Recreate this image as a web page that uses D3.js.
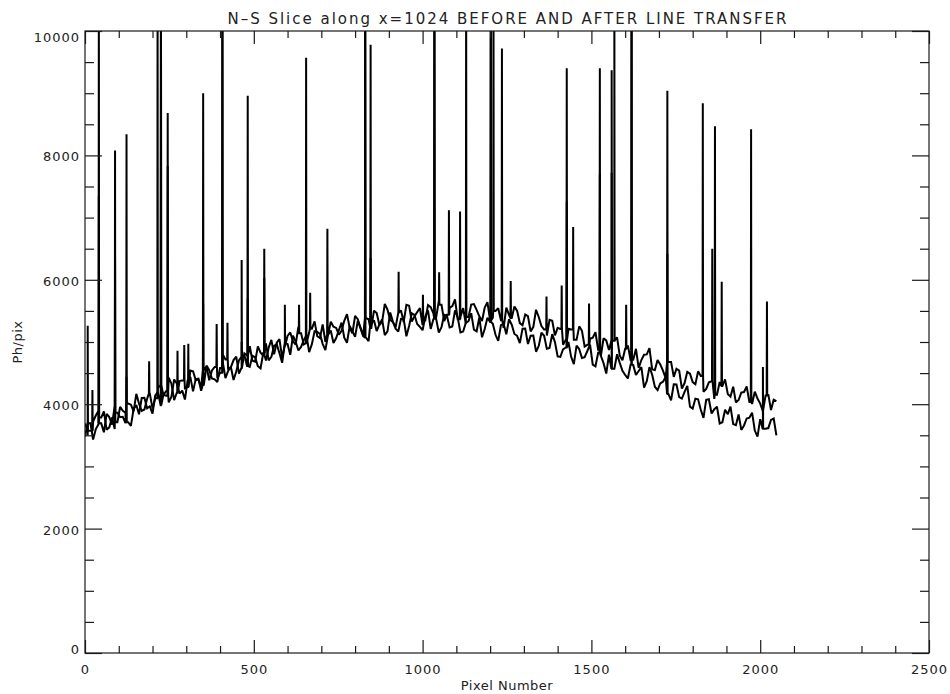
<!DOCTYPE html>
<html>
<head>
<meta charset="utf-8">
<script src="https://cdn.jsdelivr.net/npm/d3@7"></script>
<style>
  html, body { margin: 0; padding: 0; background: #fff; }
  svg { display: block; }
  text { font-family: "DejaVu Sans", sans-serif; fill: #222; }
</style>
</head>
<body>
<svg id="chart" width="950" height="694"></svg>
<script>
// ---------- DATA ----------
const titleText = "N\u2013S Slice along x=1024 BEFORE AND AFTER LINE TRANSFER";
const xLabel = "Pixel Number";
const yLabel = "Ph/pix";

const xMajorTicks = [0, 500, 1000, 1500, 2000, 2500];
const xMinorTicks = [100, 200, 300, 400, 600, 700, 800, 900, 1100, 1200, 1300, 1400,
                     1600, 1700, 1800, 1900, 2100, 2200, 2300, 2400];
const yMajorTicks = [0, 2000, 4000, 6000, 8000, 10000];
const yMinorTicks = [500, 1000, 1500, 2500, 3000, 3500, 4500, 5000, 5500,
                     6500, 7000, 7500, 8500, 9000, 9500];

// samples at pixels 0,16,...,2048 (A) and 8,24,...,2040 (B)
const pixelsA = d3.range(0, 2049, 16);
const pixelsB = d3.range(8, 2048, 16);

// upper curve (after transfer)
const upperA = [
 3690,3574,3818,3692,3846,3670,3864,3798,4010,3885,4010,3915,4170,4095,4310,4135,
 4330,4185,4380,4275,4530,4395,4550,4385,4600,4504,4718,4592,4766,4580,4784,4698,
 4930,4784,4908,4802,5046,4940,5154,4958,5140,4981,5212,5093,5284,5115,5246,5117,
 5340,5229,5418,5227,5386,5225,5464,5323,5520,5321,5472,5323,5584,5415,5546,5347,
 5560,5389,5598,5437,5576,5365,5544,5403,5610,5412,5554,5346,5498,5350,5552,5384,
 5500,5268,5416,5244,5402,5200,5358,5106,5210,5035,5200,5035,5180,4955,5070,4875,
 5060,4870,5020,4780,4890,4710,4890,4710,4800,4560,4710,4540,4680,4440,4540,4340,
 4490,4322,4454,4246,4368,4150,4292,4164,4280,4068,4196,4034,4202,4010,4138,3906,
 4050
];
const upperB = [
 3497,3721,3895,3549,3793,3967,3791,3694,3992,4167,3892,4087,3932,4257,4152,4427,
 4067,4372,4257,4542,4387,4272,4607,4542,4417,4801,4555,4709,4493,4817,4931,4684,
 4827,4701,5035,4989,4743,5097,5011,5244,4960,5151,5332,5063,5004,5325,5226,5178,
 5449,5138,5367,5106,5365,5504,5273,5611,5355,5236,5507,5598,5329,5480,5271,5593,
 5459,5658,5337,5546,5685,5404,5293,5601,5516,5338,5640,5392,5544,5226,5438,5572,
 5304,5442,5170,5518,5256,5104,5342,5228,4957,5212,5037,5252,4927,5052,5157,4772,
 5025,4875,5075,4705,4945,4715,4585,4795,4900,4550,4640,4420,4680,4570,4250,4520,
 4356,4528,4200,4352,4084,4356,4398,4122,4029,4187,4285,4003,4091,3889,4157,4073
];

// lower curve (before transfer)
const lowerA = [
 3480,3695,3600,3785,3590,3785,3710,3895,3710,3924,3838,4102,3966,4140,3984,4208,
 4120,4334,4218,4382,4206,4410,4314,4548,4400,4584,4418,4602,4526,4760,4614,4778,
 4610,4822,4705,4937,4820,4982,4795,5007,4920,5107,4965,5162,4970,5117,4985,5192,
 5070,5256,5082,5228,5074,5300,5176,5362,5170,5329,5168,5367,5256,5435,5244,5413,
 5210,5375,5240,5425,5250,5395,5170,5335,5200,5394,5208,5322,5116,5270,5124,5278,
 5100,5214,4968,5102,4936,5100,4904,4998,4760,4911,4762,4943,4744,4855,4636,4827,
 4660,4795,4570,4665,4470,4635,4470,4595,4370,4474,4228,4362,4166,4320,4114,4198,
 3960,4090,3910,4070,3850,3960,3710,3840,3680,3834,3658,3782,3576,3760,3604,3748,
 3500
];
const lowerB = [
 3698,3433,3678,3883,3628,3603,3958,3863,3652,3986,4100,3934,3848,4192,4146,4029,
 4397,4171,4075,4439,4403,4217,4621,4414,4357,4681,4535,4389,4703,4787,4601,4754,
 4576,4979,4761,4964,4666,4969,5101,4864,5029,4836,5174,5131,4869,5186,5064,5311,
 4988,5174,5340,5096,5012,5348,5284,5111,5475,5214,5373,5092,5461,5290,5189,5507,
 5368,5153,5438,5233,5508,5153,5308,5463,5172,5076,5390,5294,5018,5292,5366,5129,
 4982,5216,5100,4844,5148,4892,5126,4769,4881,5002,4643,4884,4755,4956,4607,4779,
 4493,4788,4803,4538,4413,4628,4533,4268,4597,4281,4335,4439,4063,4317,4091,4294,
 3930,4080,3780,4080,3920,3690,3910,3960,3662,3586,3770,3864,3478,3772,3616,3769
];

// narrow spikes (lines / cosmic rays): pixel, peak in upper curve, peak in lower curve
const spikePixels = [8, 22, 41, 89, 123, 190, 215, 225, 245, 274, 294, 306, 350, 390, 407,
  422, 464, 482, 531, 592, 634, 655, 667, 718, 830, 846, 929, 1001, 1035, 1049, 1078, 1111,
  1129, 1202, 1210, 1235, 1261, 1367, 1412, 1427, 1446, 1493, 1525, 1560, 1568, 1603, 1619,
  1725, 1830, 1858, 1866, 1886, 1973, 2008, 2020];
const spikeUpper = [5260, 4230, 11000, 8080, 8340, 4690, 11000, 11000, 8680, 4860, 4950, 4970, 9000, 5290, 11000,
  5310, 6320, 8960, 6500, 5600, 5600, 9570, 5790, 6820, 11000, 9780, 6130, 5760, 11000, 6120, 7120, 7100,
  11000, 11000, 11000, 9720, 5980, 5730, 5910, 9400, 6850, 5620, 9400, 9370, 11000, 5600, 11000,
  9040, 8840, 6500, 8470, 5970, 8420, null, 5650];
const spikeLower = [null, null, 7350, 6270, 4440, null, null, 11000, 7830, null, null, null, 5620, null, 11000,
  null, 5000, 5700, 6030, null, null, null, null, null, 11000, 6350, null, null, 11000, null, null, null,
  null, 11000, null, null, null, null, null, 7260, null, null, 7700, 7720, null, null, 11000,
  6420, null, null, null, null, null, 4600, null];

// ---------- LAYOUT ----------
const svg = d3.select("#chart");
const x = d3.scaleLinear().domain([0, 2500]).range([85, 929]);
const y = d3.scaleLinear().domain([0, 10000]).range([653, 31]);
const ink = "#1a1a1a";

function buildSeries(valsA, valsB, peaks) {
  const pts = pixelsA.map((p, i) => [p, valsA[i]])
    .concat(pixelsB.map((p, i) => [p, valsB[i]]));
  spikePixels.forEach((p, k) => {
    const peak = peaks[k];
    if (peak == null) return;
    const foot = valsA[Math.min(valsA.length - 1, Math.round(p / 16))];
    pts.push([p - 0.8, foot], [p, peak], [p + 0.8, foot]);
  });
  pts.sort((a, b) => a[0] - b[0]);
  return pts;
}

svg.append("defs").append("clipPath").attr("id", "plotClip")
  .append("rect").attr("x", x(0)).attr("y", y(10000))
  .attr("width", x(2500) - x(0)).attr("height", y(0) - y(10000));

const line = d3.line().x(d => x(d[0])).y(d => y(d[1]));
const plot = svg.append("g").attr("clip-path", "url(#plotClip)");
[buildSeries(lowerA, lowerB, spikeLower), buildSeries(upperA, upperB, spikeUpper)].forEach(s => {
  plot.append("path").datum(s).attr("d", line)
    .attr("fill", "none").attr("stroke", "#000").attr("stroke-width", 2)
    .attr("stroke-linejoin", "miter").attr("stroke-miterlimit", 2);
});

// ---------- AXES ----------
function styleAxis(g) {
  g.select(".domain").remove();
  g.selectAll("line").attr("stroke", ink).attr("stroke-width", 1.2);
  g.selectAll("text").attr("font-size", 13).attr("fill", ink)
    .attr("font-family", "DejaVu Sans, sans-serif").attr("letter-spacing", "1px");
}

// bottom
svg.append("g").attr("transform", `translate(0,${y(0)})`)
  .call(d3.axisBottom(x).tickValues(xMajorTicks).tickSize(-13).tickPadding(12)
        .tickSizeOuter(0).tickFormat(d3.format("d")))
  .call(styleAxis);
svg.append("g").attr("transform", `translate(0,${y(0)})`)
  .call(d3.axisBottom(x).tickValues(xMinorTicks).tickSize(-7).tickFormat(""))
  .call(styleAxis);
// top
svg.append("g").attr("transform", `translate(0,${y(10000)})`)
  .call(d3.axisTop(x).tickValues(xMajorTicks).tickSize(-13).tickFormat(""))
  .call(styleAxis);
svg.append("g").attr("transform", `translate(0,${y(10000)})`)
  .call(d3.axisTop(x).tickValues(xMinorTicks).tickSize(-7).tickFormat(""))
  .call(styleAxis);
// left
const leftAxis = svg.append("g").attr("transform", `translate(${x(0)},0)`)
  .call(d3.axisLeft(y).tickValues(yMajorTicks).tickSize(-17).tickPadding(5)
        .tickFormat(d3.format("d")))
  .call(styleAxis);
leftAxis.selectAll(".tick text")
  .attr("dy", d => d === 0 ? "0em" : (d === 10000 ? "0.78em" : "0.42em"));
svg.append("g").attr("transform", `translate(${x(0)},0)`)
  .call(d3.axisLeft(y).tickValues(yMinorTicks).tickSize(-9).tickFormat(""))
  .call(styleAxis);
// right
svg.append("g").attr("transform", `translate(${x(2500)},0)`)
  .call(d3.axisRight(y).tickValues(yMajorTicks).tickSize(-17).tickFormat(""))
  .call(styleAxis);
svg.append("g").attr("transform", `translate(${x(2500)},0)`)
  .call(d3.axisRight(y).tickValues(yMinorTicks).tickSize(-9).tickFormat(""))
  .call(styleAxis);

// frame
svg.append("rect")
  .attr("x", x(0)).attr("y", y(10000))
  .attr("width", x(2500) - x(0)).attr("height", y(0) - y(10000))
  .attr("fill", "none").attr("stroke", ink).attr("stroke-width", 1.2);

// ---------- TEXT ----------
svg.append("text")
  .attr("x", (x(0) + x(2500)) / 2).attr("y", 24)
  .attr("text-anchor", "middle").attr("font-size", 15)
  .attr("textLength", 559).attr("lengthAdjust", "spacing")
  .text(titleText);

svg.append("text")
  .attr("x", (x(0) + x(2500)) / 2).attr("y", 690)
  .attr("text-anchor", "middle").attr("font-size", 13).attr("letter-spacing", "0.5px")
  .text(xLabel);

svg.append("text")
  .attr("transform", `translate(22,342) rotate(-90)`)
  .attr("text-anchor", "middle").attr("font-size", 13).attr("letter-spacing", "0.5px")
  .text(yLabel);
</script>
</body>
</html>
